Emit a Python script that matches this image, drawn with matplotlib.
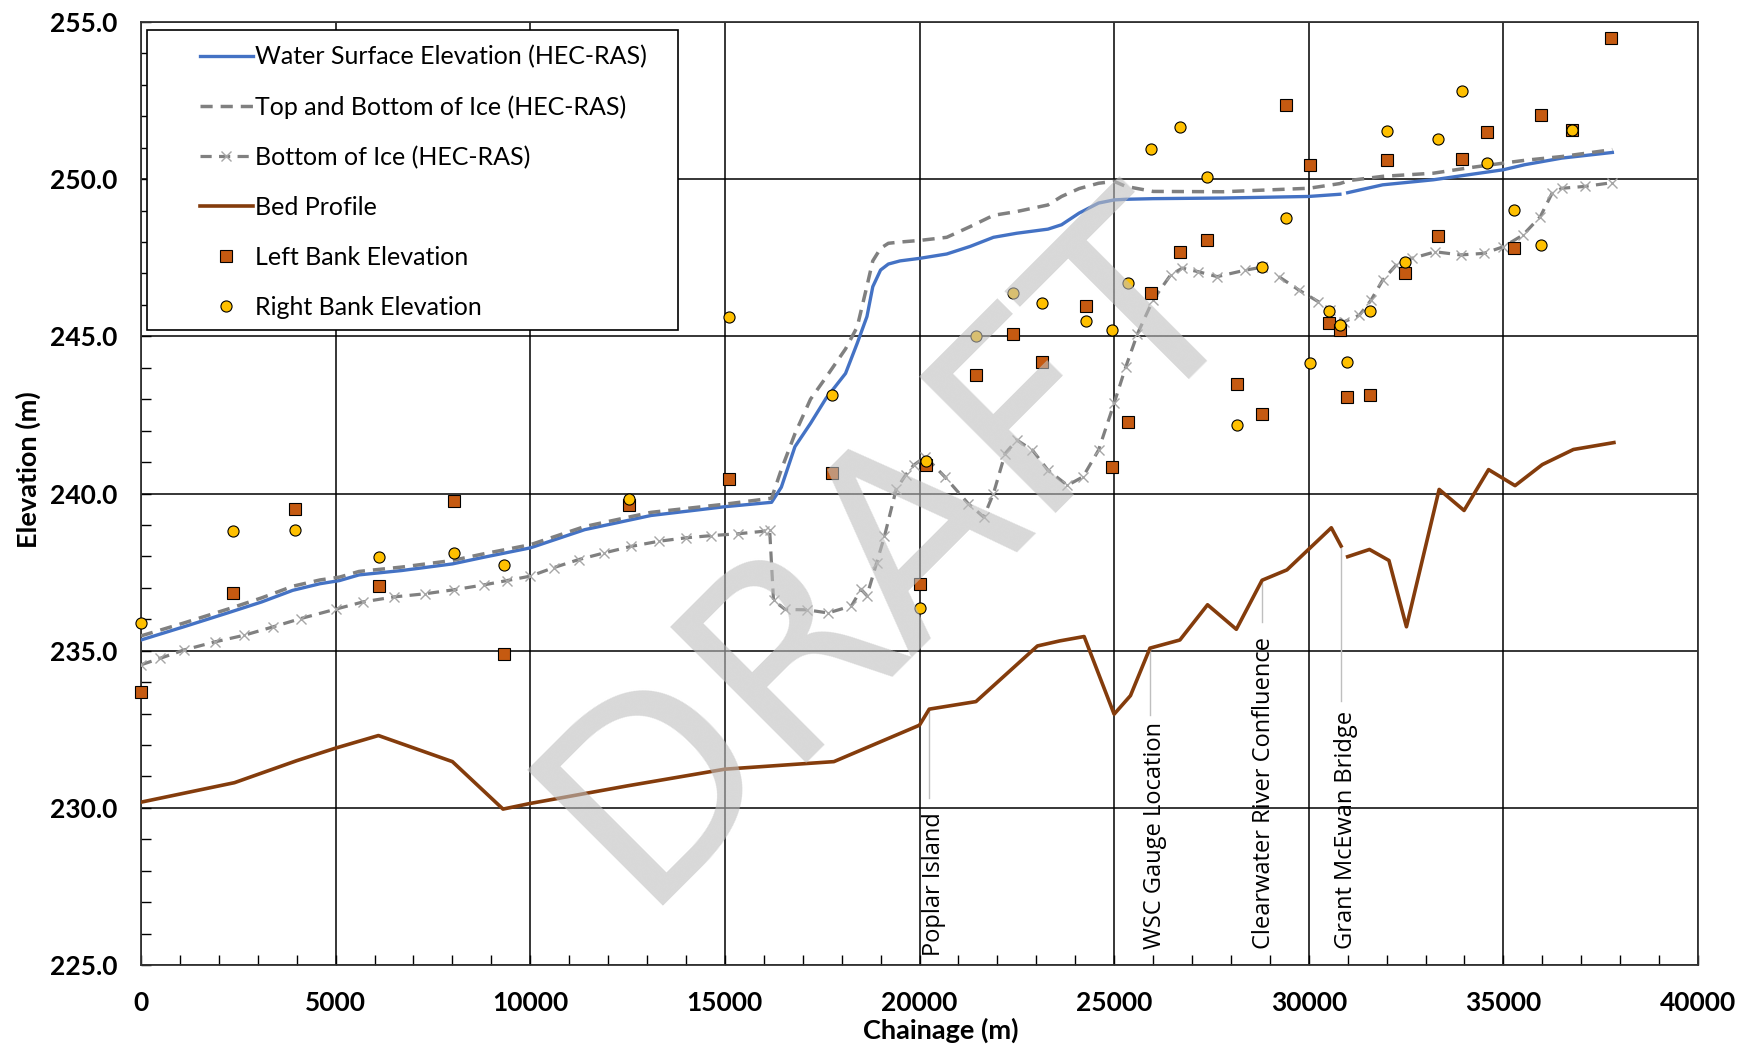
import numpy as np
import matplotlib
matplotlib.use('Agg')
import matplotlib.pyplot as plt
from matplotlib.patches import Rectangle
from matplotlib.ticker import MultipleLocator, FormatStrFormatter

# water surface / top of ice (HEC-RAS)
ws_x = [0, 1100, 2300, 3100, 3900, 4600, 5100, 5600, 6700, 8000, 8800, 10000, 11400, 13100,
        15000, 16200, 16450, 16800, 17200, 17600, 18100, 18400, 18650, 18800, 19000, 19200,
        19500, 20000, 20700, 21300, 21900, 22500, 23300, 23650, 24100, 24600, 25000, 25300,
        26000, 27800, 30000, 30800, 30900, 31000, 31900, 33200, 34100, 35000, 35550, 36500, 37800]
wse = [235.34, 235.76, 236.23, 236.55, 236.92, 237.13, 237.23, 237.41, 237.55, 237.76, 237.97,
       238.27, 238.85, 239.30, 239.58, 239.72, 240.20, 241.49, 242.23, 243.03, 243.82, 244.78,
       245.63, 246.58, 247.11, 247.30, 247.40, 247.48, 247.62, 247.86, 248.15, 248.28, 248.41,
       248.55, 248.92, 249.24, 249.34, 249.36, 249.38, 249.40, 249.45, 249.52, np.nan, 249.57,
       249.82, 249.98, 250.14, 250.30, 250.46, 250.67, 250.85]
top_ice = [235.47, 235.88, 236.35, 236.68, 237.05, 237.25, 237.34, 237.52, 237.66, 237.87, 238.08,
           238.37, 238.95, 239.40, 239.66, 239.85, 240.76, 241.90, 243.00, 243.70, 244.60, 245.30,
           246.60, 247.40, 247.80, 247.96, 248.00, 248.05, 248.15, 248.49, 248.85, 248.97, 249.18,
           249.45, 249.70, 249.87, 249.93, 249.77, 249.61, 249.60, 249.71, 249.86, 249.90, 249.95,
           250.09, 250.19, 250.36, 250.51, 250.60, 250.72, 250.94]

# bottom of ice
ice_x = [0, 500, 1100, 1900, 2650, 3400, 4100, 5000, 5700, 6500, 7300, 8050, 8800, 9400, 10000,
         10600, 11250, 11900, 12600, 13300, 14000, 14650, 15350, 16000, 16150, 16250, 16550,
         17100, 17650, 18250, 18500, 18650, 18900, 19100, 19400, 19650, 19850, 20150, 20650,
         21250, 21650, 21900, 22200, 22500, 22900, 23300, 23800, 24200, 24600, 25000, 25300,
         25600, 26000, 26450, 26750, 27150, 27650, 28350, 28800, 29000, 29230, 29750, 30250,
         30550, 30900, 31300, 31600, 31900, 32250, 32650, 33250, 33900, 34500, 35000, 35500,
         35950, 36250, 36500, 37100, 37800]
bot_ice = [234.55, 234.76, 235.02, 235.28, 235.49, 235.76, 236.02, 236.32, 236.55, 236.71, 236.81,
           236.94, 237.09, 237.23, 237.37, 237.64, 237.90, 238.11, 238.32, 238.48, 238.59, 238.66,
           238.72, 238.80, 238.85, 236.60, 236.31, 236.30, 236.20, 236.42, 236.95, 236.75, 237.80,
           238.64, 240.13, 240.60, 240.90, 241.17, 240.53, 239.68, 239.25, 240.00, 241.27, 241.70,
           241.38, 240.74, 240.26, 240.53, 241.38, 242.87, 244.03, 245.08, 246.16, 246.95, 247.17,
           247.06, 246.90, 247.10, 247.20, np.nan, 246.90, 246.47, 246.10, 245.83, 245.46, 245.67,
           246.15, 246.79, 247.27, 247.48, 247.69, 247.59, 247.64, 247.85, 248.22, 248.81, 249.55,
           249.71, 249.77, 249.89]

# bed
bed_x = [0, 2400, 4000, 5000, 6100, 8000, 9300, 10000, 12500, 15000, 17800, 20000, 20250, 21450,
         23030, 23600, 24230, 25000, 25420, 25920, 26690, 27400, 28140, 28800, 29440, 30580,
         30830, 30900, 31000, 31560, 32060, 32510, 33350, 33990, 34620, 35300, 36000, 36800, 37840]
bed = [230.18, 230.80, 231.50, 231.90, 232.30, 231.47, 229.96, 230.14, 230.70, 231.23, 231.47,
       232.63, 233.14, 233.38, 235.15, 235.31, 235.45, 232.98, 233.57, 235.08, 235.34, 236.46,
       235.68, 237.24, 237.57, 238.91, 238.33, np.nan, 237.99, 238.22, 237.87, 235.76, 240.13,
       239.46, 240.76, 240.25, 240.92, 241.40, 241.62]

# bank elevations
bank_x = [0, 2370, 3960, 6120, 8030, 9320, 12540, 15100, 17750, 20020, 20170, 21450, 22395, 23135,
          24285, 24935, 25360, 25945, 26700, 27380, 28150, 28800, 29420, 30020, 30510, 30795,
          30990, 31580, 32015, 32470, 33310, 33930, 34585, 35270, 35955, 36760, 37755]
left_bank = [233.68, 236.83, 239.50, 237.07, 239.75, 234.88, 239.65, 240.47, 240.66, 237.12, 240.90,
             243.78, 245.07, 244.19, 245.97, 240.84, 242.29, 246.39, 247.69, 248.06, 243.49, 242.52,
             252.36, 250.45, 245.42, 245.19, 243.08, 243.12, 250.60, 247.00, 248.20, 250.64, 251.50,
             247.80, 252.04, 251.57, 254.48]
right_bank = [235.87, 238.80, 238.84, 237.99, 238.10, 237.71, 239.83, 245.60, 243.13, 236.37, 241.04,
              245.00, 246.38, 246.06, 245.50, 245.21, 246.70, 250.97, 251.65, 250.07, 242.19, 247.22,
              248.75, 244.15, 245.81, 245.35, 244.19, 245.81, 251.52, 247.36, 251.29, 252.81, 250.50,
              249.01, 247.92, 251.57, np.nan]

# locations along the reach
loc_names = ['Poplar Island', 'WSC Gauge Location', 'Clearwater River Confluence', 'Grant McEwan Bridge']
loc_x = [20250, 25920, 28800, 30830]
loc_bed = [233.14, 235.08, 237.24, 238.33]
loc_end = [230.30, 232.95, 235.90, 233.40]
loc_text_x = [20370, 26050, 28850, 30960]
loc_text_y = [225.3, 225.5, 225.5, 225.5]

plt.rcParams['font.family'] = ['Lato', 'DejaVu Sans']

fig = plt.figure(figsize=(17.39, 10.45), dpi=100)
ax = fig.add_axes([141 / 1739, 1 - 965 / 1045, 1557 / 1739, 943 / 1045])

ax.plot(ws_x, wse, color='#4472C4', lw=2.4, label='Water Surface Elevation (HEC-RAS)', zorder=3)
ax.plot(ws_x, top_ice, color='#808080', lw=2.5, ls=(0, (3.5, 2.3)),
        label='Top and Bottom of Ice (HEC-RAS)', zorder=3)
ax.plot(ice_x, bot_ice, color='#808080', lw=2.3, ls=(0, (3.5, 2.3)), marker='x', ms=7,
        mec='#A6A6A6', mew=1.0, label='Bottom of Ice (HEC-RAS)', zorder=3)
ax.plot(bed_x, bed, color='#843C0C', lw=2.6, label='Bed Profile', zorder=3)
ax.plot(bank_x, left_bank, ls='none', marker='s', ms=8, mfc='#C55A11', mec='black', mew=0.8,
        label='Left Bank Elevation', zorder=4, clip_on=False)
ax.plot(bank_x, right_bank, ls='none', marker='o', ms=8, mfc='#FFC000', mec='black', mew=0.8,
        label='Right Bank Elevation', zorder=4, clip_on=False)

for name, x, yb, ye, xt, yt in zip(loc_names, loc_x, loc_bed, loc_end, loc_text_x, loc_text_y):
    ax.plot([x, x], [yb, ye], color='#BFBFBF', lw=1.0, zorder=2.5)
    ax.text(xt, yt, name, rotation=90, ha='center', va='bottom', fontsize=17,
            family=['Open Sans', 'DejaVu Sans'], zorder=3)

ax.set_xlim(0, 40000)
ax.set_ylim(225, 255)
ax.xaxis.set_major_locator(MultipleLocator(5000))
ax.xaxis.set_minor_locator(MultipleLocator(1000))
ax.yaxis.set_major_locator(MultipleLocator(5))
ax.yaxis.set_minor_locator(MultipleLocator(1))
ax.yaxis.set_major_formatter(FormatStrFormatter('%.1f'))
ax.grid(which='major', color='black', lw=1.1, zorder=1)
ax.set_axisbelow(True)
ax.tick_params(which='both', direction='in', length=7, width=1.0, color='black')
ax.tick_params(axis='y', pad=17)
ax.tick_params(axis='x', pad=19)
for lab in ax.get_xticklabels() + ax.get_yticklabels():
    lab.set_fontsize(19)
    lab.set_fontweight('bold')
for s in ax.spines.values():
    s.set_linewidth(1.3)
    s.set_color('#333333')

fig.text(28 / 1739, 1 - 470 / 1045, 'Elevation (m)', rotation=90, ha='center', va='center',
         fontsize=19.5, fontweight='bold')
fig.text(941 / 1739, 1 - 1030 / 1045, 'Chainage (m)', ha='center', va='center',
         fontsize=19.5, fontweight='bold')

# legend box drawn separately so the padding matches
ax.add_patch(Rectangle((147 / 1739, 1 - 330 / 1045), 531 / 1739, 300 / 1045,
                       transform=fig.transFigure, facecolor='white', edgecolor='black',
                       lw=1.2, zorder=4.5))
leg = ax.legend(loc='upper left', bbox_to_anchor=(200 / 1739, 1 - 45 / 1045),
                bbox_transform=fig.transFigure, frameon=False, fontsize=18,
                borderpad=0, borderaxespad=0, handlelength=2.1, handletextpad=0.1,
                labelspacing=1.08)
leg.set_zorder(5)

fig.text(891 / 1739, 1 - 548 / 1045, 'DRAFT', fontsize=190, family='DejaVu Sans',
         rotation=45, ha='center', va='center', color='#BFBFBF', alpha=0.6, zorder=10)

fig.savefig('out.png', dpi=100)
